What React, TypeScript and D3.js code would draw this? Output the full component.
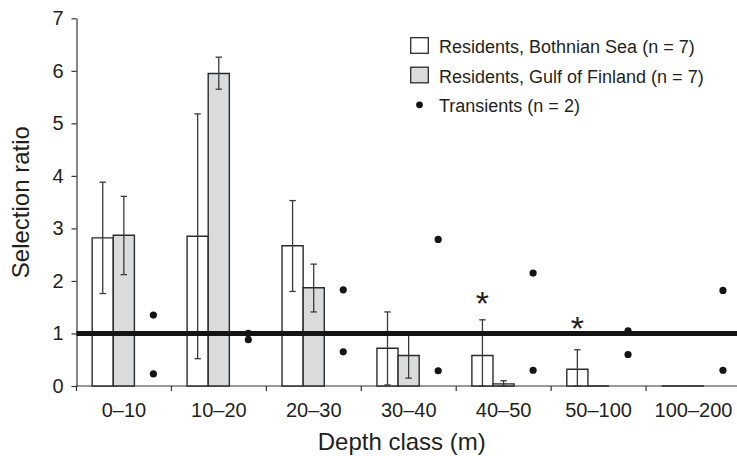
import * as d3 from "d3";
import { useEffect, useRef } from "react";

// depth classes and values
const categories = ["0–10", "10–20", "20–30", "30–40", "40–50", "50–100", "100–200"];
const bothnian = [2.82, 2.85, 2.67, 0.72, 0.58, 0.32, 0];
const bothnianHi = [3.88, 5.18, 3.53, 1.41, 1.26, 0.69, 0];
const bothnianLo = [1.76, 0.52, 1.8, 0.02, 0, 0, 0];
const gulf = [2.87, 5.95, 1.87, 0.58, 0.04, 0, 0];
const gulfHi = [3.61, 6.26, 2.32, 1.0, 0.1, 0, 0];
const gulfLo = [2.12, 5.65, 1.41, 0.15, 0, 0, 0];
const transientA = [1.35, 1.0, 1.83, 2.79, 2.15, 1.05, 1.82];
const transientB = [0.23, 0.88, 0.65, 0.29, 0.3, 0.6, 0.3];
const starY = [null, null, null, null, 1.68, 1.2, null];
const yTicks = [0, 1, 2, 3, 4, 5, 6, 7];
const legendLabels = [
  "Residents, Bothnian Sea (n = 7)",
  "Residents, Gulf of Finland (n = 7)",
  "Transients (n = 2)",
];

const W = 737;
const H = 456;
const FONT = "'Liberation Sans', Arial, Helvetica, sans-serif";
const INK = "#231f20";

export default function App() {
  const ref = useRef<SVGSVGElement>(null);

  useEffect(() => {
    const svg = d3.select(ref.current);
    svg.selectAll("*").remove();

    const left = 76.5, right = 741, top = 18.3, bottom = 386;

    const x = d3.scaleBand().domain(categories).range([left, right]).padding(0);
    const bw = x.bandwidth();
    const sub = d3.scaleBand().domain(["b", "g"]).range([0.165 * bw, 0.61 * bw]).padding(0);
    const y = d3.scaleLinear().domain([0, 7]).range([bottom, top]);

    const g = svg.append("g").attr("font-family", FONT).attr("fill", INK);

    // y axis
    const yAxis = d3.axisLeft(y)
      .tickValues(yTicks)
      .tickFormat(d3.format("d"))
      .tickSize(5)
      .tickSizeOuter(0)
      .tickPadding(8);
    const ya = g.append("g").attr("transform", `translate(${left},0)`).call(yAxis);
    ya.select(".domain").attr("stroke", "#333").attr("stroke-width", 1.2);
    ya.selectAll(".tick line").attr("stroke", "#333").attr("stroke-width", 1.2);
    ya.selectAll(".tick text").attr("font-size", 20).attr("font-family", FONT).attr("fill", INK);

    // x axis: line, boundary ticks, centred labels
    g.append("line")
      .attr("x1", left).attr("x2", right).attr("y1", bottom).attr("y2", bottom)
      .attr("stroke", "#333").attr("stroke-width", 1.2);
    g.selectAll(".xtick")
      .data(categories)
      .join("line")
      .attr("x1", d => x(d)!).attr("x2", d => x(d)!)
      .attr("y1", bottom).attr("y2", bottom + 5)
      .attr("stroke", "#333").attr("stroke-width", 1.2);
    g.selectAll(".xlab")
      .data(categories)
      .join("text")
      .attr("x", d => x(d)! + bw / 2)
      .attr("y", 417)
      .attr("text-anchor", "middle")
      .attr("font-size", 20)
      .text(d => d);

    // titles
    g.append("text")
      .attr("x", (left + right) / 2 - 7)
      .attr("y", 450)
      .attr("text-anchor", "middle")
      .attr("font-size", 24)
      .text("Depth class (m)");
    g.append("text")
      .attr("transform", `translate(29,${(top + bottom) / 2}) rotate(-90)`)
      .attr("text-anchor", "middle")
      .attr("font-size", 24)
      .text("Selection ratio");

    const series = [
      { key: "b", vals: bothnian, hi: bothnianHi, lo: bothnianLo, fill: "#ffffff" },
      { key: "g", vals: gulf, hi: gulfHi, lo: gulfLo, fill: "#dadbdc" },
    ];

    // bars (paths so zero-height bars still show as a stub)
    series.forEach(s => {
      g.append("g")
        .selectAll("path")
        .data(s.vals)
        .join("path")
        .attr("d", (v, i) => {
          const x0 = x(categories[i])! + sub(s.key)!;
          return `M${x0},${y(0)}V${y(v)}H${x0 + sub.bandwidth()}V${y(0)}Z`;
        })
        .attr("fill", s.fill)
        .attr("stroke", "#2b2b2b")
        .attr("stroke-width", 1.4);
    });

    // error bars
    series.forEach(s => {
      const eg = g.append("g").attr("stroke", "#3a3a3a").attr("stroke-width", 1.3);
      s.vals.forEach((v, i) => {
        if (s.hi[i] === 0 && s.lo[i] === 0) return;
        const cx = x(categories[i])! + sub(s.key)! + sub.bandwidth() / 2;
        eg.append("line").attr("x1", cx).attr("x2", cx).attr("y1", y(s.hi[i])).attr("y2", y(s.lo[i]));
        [s.hi[i], s.lo[i]].forEach(e => {
          eg.append("line").attr("x1", cx - 3.2).attr("x2", cx + 3.2).attr("y1", y(e)).attr("y2", y(e));
        });
      });
    });

    // reference line at 1
    g.append("line")
      .attr("x1", left).attr("x2", right)
      .attr("y1", y(1)).attr("y2", y(1))
      .attr("stroke", "#141414").attr("stroke-width", 5);

    // transients
    [transientA, transientB].forEach(arr => {
      g.append("g")
        .selectAll("circle")
        .data(arr)
        .join("circle")
        .attr("cx", (v, i) => x(categories[i])! + 0.81 * bw)
        .attr("cy", v => y(v))
        .attr("r", 3.6)
        .attr("fill", "#141414");
    });

    // significance asterisks
    starY.forEach((v, i) => {
      if (v === null) return;
      g.append("text")
        .attr("x", x(categories[i])! + sub("b")! + sub.bandwidth() / 2)
        .attr("y", y(v) + 17)
        .attr("text-anchor", "middle")
        .attr("font-size", 34)
        .text("*");
    });

    // legend
    const lx = 410.7;
    const lg = g.append("g");
    const rows = lg.selectAll("g").data(legendLabels).join("g")
      .attr("transform", (d, i) => `translate(0,${53.3 + i * 29.5})`);
    rows.append("text").attr("x", 439).attr("y", 0).attr("font-size", 18).text(d => d);
    rows.filter((d, i) => i < 2).append("rect")
      .attr("x", lx).attr("y", -15.6).attr("width", 17.6).attr("height", 15.6)
      .attr("fill", (d, i) => series[i].fill)
      .attr("stroke", "#2b2b2b").attr("stroke-width", 1.3);
    rows.filter((d, i) => i === 2).append("circle")
      .attr("cx", lx + 8.8).attr("cy", -7.5).attr("r", 3.4).attr("fill", "#141414");
  }, []);

  return (
    <svg
      ref={ref}
      width={W}
      height={H}
      viewBox={`0 0 ${W} ${H}`}
      style={{ position: "absolute", left: 0, top: 0, background: "#fff" }}
    />
  );
}
